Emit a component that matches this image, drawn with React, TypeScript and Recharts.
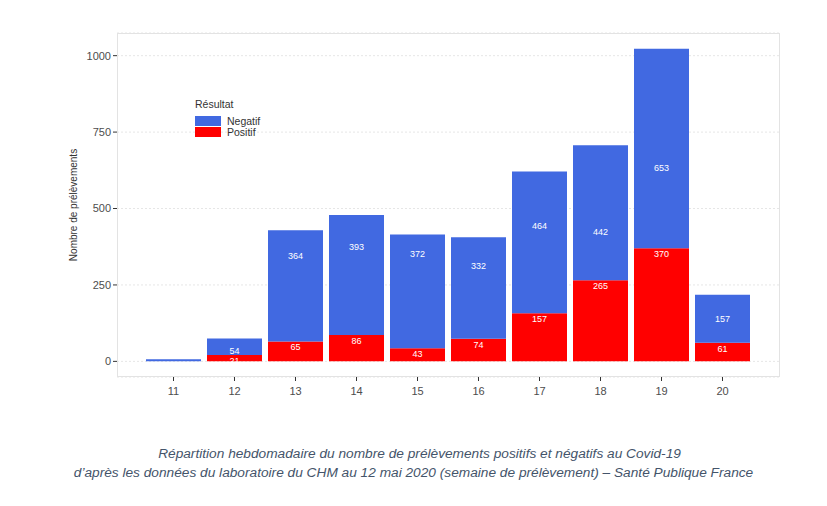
import { BarChart, Bar, XAxis, YAxis, CartesianGrid, LabelList } from "recharts";

const weeks = ["11", "12", "13", "14", "15", "16", "17", "18", "19", "20"];
const positif = [0, 21, 65, 86, 43, 74, 157, 265, 370, 61];
const negatif = [7, 54, 364, 393, 372, 332, 464, 442, 653, 157];
const yTicks = [0, 250, 500, 750, 1000];

const data = weeks.map((w, i) => ({ week: w, Positif: positif[i], Negatif: negatif[i] }));

const BLUE = "#4169E1";
const RED = "#FF0000";
const FONT = "'Liberation Sans', Arial, sans-serif";

// labels sit just under the unstacked value, as in the original ggplot figure
function posLabel(props: any) {
  const { x, y, width, height, value } = props;
  if (!value || height < 4) return null;
  return (
    <text x={x + width / 2} y={y + 9} fill="#fff" fontSize={9} textAnchor="middle" fontFamily={FONT}>
      {value}
    </text>
  );
}

function negLabel(props: any) {
  const { x, y, width, height, value, index } = props;
  if (!value || height < 6) return null;
  const k = height / value;
  const zeroY = y + height + positif[index] * k;
  const ty = zeroY - height;
  return (
    <text x={x + width / 2} y={ty + 9} fill="#fff" fontSize={9} textAnchor="middle" fontFamily={FONT}>
      {value}
    </text>
  );
}

export default function App() {
  return (
    <div style={{ position: "absolute", left: 0, top: 0, width: 827, height: 506, background: "#fff", fontFamily: FONT }}>
      <BarChart
        width={827}
        height={420}
        data={data}
        margin={{ top: 33, right: 47, left: 0, bottom: 3 }}
        barSize={55}
      >
        <CartesianGrid vertical={false} stroke="#e6e6e6" strokeDasharray="2 2" />
        <XAxis
          dataKey="week"
          height={40}
          padding={{ left: 26, right: 27 }}
          axisLine={false}
          tickLine={{ stroke: "#333" }}
          tickSize={4}
          tick={{ fill: "#4d4d4d", fontSize: 11, fontFamily: FONT, dy: 4 }}
        />
        <YAxis
          width={117}
          type="number"
          domain={[-51.15, 1074.15]}
          allowDataOverflow
          ticks={yTicks}
          axisLine={false}
          tickLine={{ stroke: "#333" }}
          tickSize={4}
          tick={{ fill: "#4d4d4d", fontSize: 11, fontFamily: FONT }}
          label={{
            value: "Nombre de prélèvements",
            angle: -90,
            position: "insideLeft",
            offset: 0,
            dx: 73,
            fill: "#333",
            fontSize: 10,
            fontFamily: FONT,
            style: { textAnchor: "middle" },
          }}
        />
        <Bar dataKey="Positif" stackId="a" fill={RED} isAnimationActive={false}>
          <LabelList dataKey="Positif" content={posLabel} />
        </Bar>
        <Bar dataKey="Negatif" stackId="a" fill={BLUE} isAnimationActive={false}>
          <LabelList dataKey="Negatif" content={negLabel} />
        </Bar>
      </BarChart>
      <div
        style={{
          position: "absolute",
          left: 117,
          top: 33,
          width: 663,
          height: 344,
          border: "1px solid #e3e3e3",
          boxSizing: "border-box",
          pointerEvents: "none",
        }}
      />
      <div style={{ position: "absolute", left: 195, top: 98, fontSize: 10.5, color: "#333" }}>
        <div style={{ marginBottom: 5 }}>Résultat</div>
        <div style={{ display: "flex", alignItems: "center", height: 11 }}>
          <span style={{ display: "inline-block", width: 26, height: 10, background: BLUE, marginRight: 6 }} />
          Negatif
        </div>
        <div style={{ display: "flex", alignItems: "center", height: 11 }}>
          <span style={{ display: "inline-block", width: 26, height: 10, background: RED, marginRight: 6 }} />
          Positif
        </div>
      </div>
      <div
        style={{
          position: "absolute",
          left: 0,
          top: 444,
          width: 827,
          textAlign: "center",
          fontStyle: "italic",
          fontSize: 13.7,
          lineHeight: "19px",
          color: "#44546A",
        }}
      >
        <div style={{ paddingLeft: 12 }}>Répartition hebdomadaire du nombre de prélèvements positifs et négatifs au Covid-19</div>
        <div>d’après les données du laboratoire du CHM au 12 mai 2020 (semaine de prélèvement) – Santé Publique France</div>
      </div>
    </div>
  );
}
